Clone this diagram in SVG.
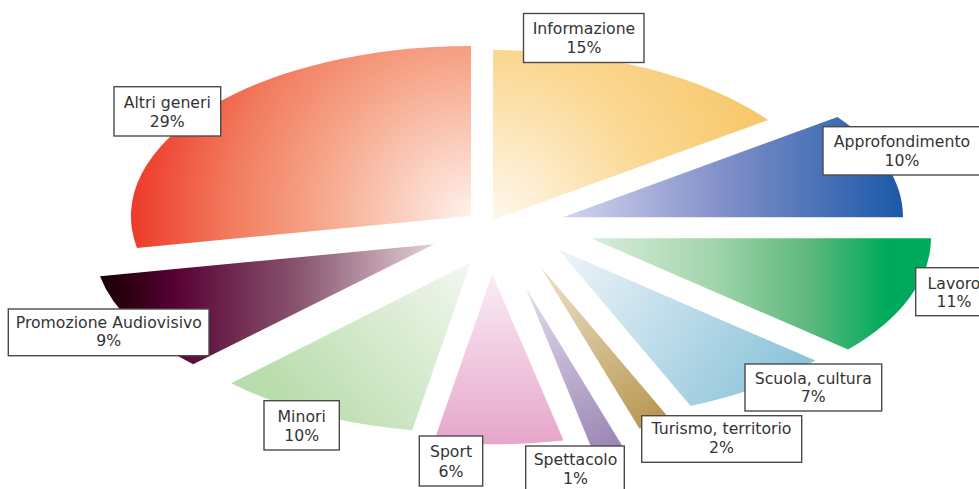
<svg xmlns="http://www.w3.org/2000/svg" width="979" height="489" viewBox="0 0 979 489">
<style>
.box{fill:#fff;stroke:#4a4a4a;stroke-width:1.4}
.lbl{font-family:"DejaVu Sans","Verdana",sans-serif;font-size:15.7px;fill:#333;text-anchor:middle}
</style>
<defs>
<radialGradient id="gAltri" gradientUnits="userSpaceOnUse" cx="471" cy="216" r="340">
<stop offset="0" stop-color="#fff1eb"/><stop offset="0.45" stop-color="#f6a68a"/><stop offset="0.7" stop-color="#f27d60"/><stop offset="1" stop-color="#ed3a2a"/>
</radialGradient>
<radialGradient id="gInfo" gradientUnits="userSpaceOnUse" cx="493" cy="220" r="320">
<stop offset="0" stop-color="#fff8ee"/><stop offset="0.5" stop-color="#fbd893"/><stop offset="1" stop-color="#f6c35e"/>
</radialGradient>
<linearGradient id="gAppr" gradientUnits="userSpaceOnUse" x1="563" y1="0" x2="903" y2="0">
<stop offset="0" stop-color="#d2d6ef"/><stop offset="0.45" stop-color="#8592ca"/><stop offset="1" stop-color="#1a58a8"/>
</linearGradient>
<linearGradient id="gLav" gradientUnits="userSpaceOnUse" x1="591" y1="0" x2="931" y2="0">
<stop offset="0" stop-color="#d8eedb"/><stop offset="0.35" stop-color="#a4d5ae"/><stop offset="0.65" stop-color="#5ab77b"/><stop offset="0.87" stop-color="#00aa5c"/><stop offset="1" stop-color="#00aa5c"/>
</linearGradient>
<linearGradient id="gScuola" gradientUnits="userSpaceOnUse" x1="560" y1="250" x2="770" y2="395">
<stop offset="0" stop-color="#eef5f9"/><stop offset="1" stop-color="#8fc5db"/>
</linearGradient>
<linearGradient id="gTur" gradientUnits="userSpaceOnUse" x1="540" y1="266" x2="656" y2="425">
<stop offset="0" stop-color="#ece3cd"/><stop offset="1" stop-color="#b9964f"/>
</linearGradient>
<linearGradient id="gSpet" gradientUnits="userSpaceOnUse" x1="526" y1="288" x2="610" y2="452">
<stop offset="0" stop-color="#e2dcec"/><stop offset="1" stop-color="#9a85b4"/>
</linearGradient>
<linearGradient id="gSport" gradientUnits="userSpaceOnUse" x1="0" y1="274" x2="0" y2="443">
<stop offset="0" stop-color="#f9edf5"/><stop offset="1" stop-color="#e7a6cb"/>
</linearGradient>
<linearGradient id="gMin" gradientUnits="userSpaceOnUse" x1="471" y1="262" x2="300" y2="420">
<stop offset="0" stop-color="#f2f8ef"/><stop offset="1" stop-color="#b9dcac"/>
</linearGradient>
<linearGradient id="gProm" gradientUnits="userSpaceOnUse" x1="100" y1="0" x2="434" y2="0">
<stop offset="0" stop-color="#1a0006"/><stop offset="0.08" stop-color="#2c0010"/><stop offset="0.22" stop-color="#560033"/><stop offset="0.6" stop-color="#8a5670"/><stop offset="1" stop-color="#e3d0d8"/>
</linearGradient>
</defs>

<g id="informazione">
<path d="M493,220 L493,50 A340,170 0 0 1 768.1,120.1 Z" fill="url(#gInfo)"/>
<rect class="box" x="523.5" y="13.5" width="120.5" height="49"/>
<text class="lbl" x="584" y="34.3">Informazione</text>
<text class="lbl" x="584" y="52.7">15%</text>
</g>

<g id="approfondimento">
<path d="M563,217.3 L837.5,116.9 A340,170 0 0 1 903,217.3 Z" fill="url(#gAppr)"/>
<rect class="box" x="823" y="126.7" width="158" height="48.3"/>
<text class="lbl" x="902" y="147">Approfondimento</text>
<text class="lbl" x="902" y="165.5">10%</text>
</g>

<g id="lavoro">
<path d="M591,238.3 L931,238.3 A340,170 0 0 1 848,349.6 Z" fill="url(#gLav)"/>
<rect class="box" x="915.7" y="267.7" width="77" height="48"/>
<text class="lbl" x="954" y="288.5">Lavoro</text>
<text class="lbl" x="954" y="307.2">11%</text>
</g>

<g id="scuola-cultura">
<path d="M558.3,249.3 L815.3,360.6 A340,170 0 0 1 690.6,405.9 Z" fill="url(#gScuola)"/>
<rect class="box" x="745" y="364" width="136.7" height="47"/>
<text class="lbl" x="813.3" y="384">Scuola, cultura</text>
<text class="lbl" x="813.3" y="402.3">7%</text>
</g>

<g id="turismo-territorio">
<path d="M540,266 L672.8,422.5 A340,170 0 0 1 639.4,428.6 Z" fill="url(#gTur)"/>
<rect class="box" x="641.7" y="415.7" width="160" height="46.6"/>
<text class="lbl" x="721.5" y="434.3">Turismo, territorio</text>
<text class="lbl" x="721.5" y="452.7">2%</text>
</g>

<g id="spettacolo">
<path d="M526,288.3 L625.4,450.9 A340,170 0 0 1 594.3,454.8 Z" fill="url(#gSpet)"/>
<rect class="box" x="525.7" y="446" width="98.6" height="48"/>
<text class="lbl" x="575.5" y="465.3">Spettacolo</text>
<text class="lbl" x="575.5" y="483.5">1%</text>
</g>

<g id="sport">
<path d="M492.3,274.3 L563.6,440.5 A340,170 0 0 1 433.8,441.8 Z" fill="url(#gSport)"/>
<rect class="box" x="419.3" y="436" width="63.4" height="50"/>
<text class="lbl" x="451" y="457">Sport</text>
<text class="lbl" x="451" y="476.5">6%</text>
</g>

<g id="minori">
<path d="M470.7,262.7 L412.2,430.2 A340,170 0 0 1 231.1,383.3 Z" fill="url(#gMin)"/>
<rect class="box" x="264" y="400.7" width="75.3" height="49.3"/>
<text class="lbl" x="301.7" y="421.7">Minori</text>
<text class="lbl" x="301.7" y="440.5">10%</text>
</g>

<g id="promozione-audiovisivo">
<path d="M434,244.3 L193.2,364.3 A340,170 0 0 1 100,276.2 Z" fill="url(#gProm)"/>
<rect class="box" x="8.3" y="309" width="200.7" height="46.7"/>
<text class="lbl" x="108.8" y="327.5">Promozione Audiovisivo</text>
<text class="lbl" x="108.8" y="346">9%</text>
</g>

<g id="altri-generi">
<path d="M471,216 L137,247.9 A340,170 0 0 1 471,46 Z" fill="url(#gAltri)"/>
<rect class="box" x="114" y="86.7" width="106.7" height="49.3"/>
<text class="lbl" x="167.3" y="108.3">Altri generi</text>
<text class="lbl" x="167.3" y="126.7">29%</text>
</g>

<g id="connectors"/>
</svg>
